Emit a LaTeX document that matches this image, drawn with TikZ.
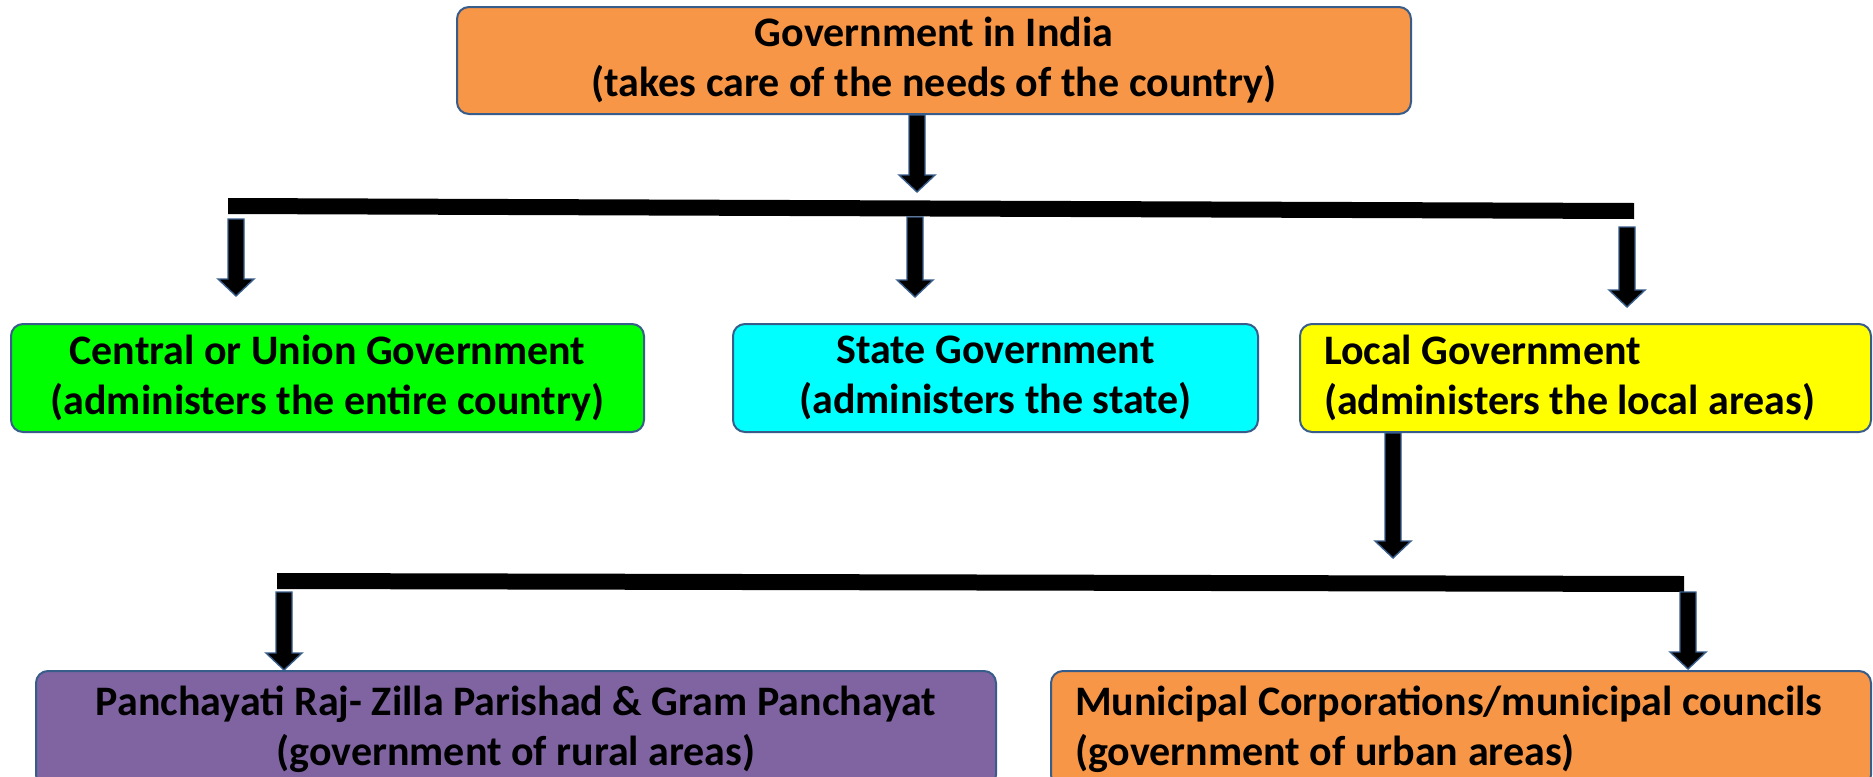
\documentclass[tikz,border=0pt]{standalone}
\usepackage{fontspec}
\setmainfont{Carlito}
\usetikzlibrary{calc}
\definecolor{orng}{HTML}{F79646}
\definecolor{grn}{HTML}{00FF00}
\definecolor{cyn}{HTML}{00FFFF}
\definecolor{yel}{HTML}{FFFF00}
\definecolor{purp}{HTML}{8064A2}
\definecolor{outl}{HTML}{385D8A}
\tikzset{
  box/.style={draw=outl, line width=1pt, rounded corners=6pt, anchor=north west,
    inner sep=0pt, font=\fontsize{21}{25}\selectfont\bfseries},
  cbox/.style={box, align=center},
  lbox/.style={box, align=flush left, inner xsep=12pt},
  barfill/.style={fill=black},
  blk/.style={fill=black, draw=outl, line width=0.7pt, line join=miter}
}
\newcommand\blockarrow[2]{%
  \path[blk] let \p1=(#1), \p2=(#2) in
    (\x1-4pt,\y1) -- (\x1-4pt,\y2+8.5pt) -- (\x1-9pt,\y2+8.5pt) -- (\x1,\y2)
    -- (\x1+9pt,\y2+8.5pt) -- (\x1+4pt,\y2+8.5pt) -- (\x1+4pt,\y1) -- cycle;}
\begin{document}
\begin{tikzpicture}[x=0.5pt, y=-0.5pt]
  \useasboundingbox (0,0) rectangle (1873,776);
  \clip (0,0) rectangle (1873,776);
  \fill[white] (0,0) rectangle (1873,776);

  % boxes
  \node[cbox, fill=orng, minimum width=477pt, minimum height=53.5pt] (top) at (456,6)
    {Government in India\\(takes care of the needs of the country)};
  \node[cbox, fill=grn, minimum width=316.5pt, minimum height=54pt] (central) at (10,323)
    {Central or Union Government\\(administers the entire country)};
  \node[cbox, fill=cyn, minimum width=262.5pt, minimum height=54pt] (state) at (732,323)
    {State Government\\(administers the state)};
  \node[lbox, fill=yel, text width=261.5pt, minimum height=54pt] (local) at (1299,323)
    {Local Government\\(administers the local areas)};
  \node[cbox, fill=purp, minimum width=480pt, minimum height=58pt] (rural) at (35,670)
    {Panchayati Raj- Zilla Parishad \& Gram Panchayat\\(government of rural areas)};
  \node[lbox, fill=orng, text width=386pt, minimum height=58pt] (urban) at (1050,670)
    {Municipal Corporations/municipal councils\\(government of urban areas)};

  % bars
  \coordinate (b1l) at (228,198);
  \coordinate (b1r) at (1634,203);
  \coordinate (b2l) at (277,573);
  \coordinate (b2r) at (1684,576);
  \fill[barfill] (b1l) -- (b1r) -- ($(b1r)+(0,16)$) -- ($(b1l)+(0,16)$) -- cycle;
  \fill[barfill] (b2l) -- (b2r) -- ($(b2r)+(0,16)$) -- ($(b2l)+(0,16)$) -- cycle;

  % arrow coordinates
  \coordinate (t0) at (917,192);
  \coordinate (s1) at (236,219); \coordinate (t1) at (236,296);
  \coordinate (s2) at (915,217); \coordinate (t2) at (915,297);
  \coordinate (s3) at (1627,227); \coordinate (t3) at (1627,307);
  \coordinate (t4) at (1393,558);
  \coordinate (s5) at (284,592); \coordinate (t5) at (284,670);
  \coordinate (s6) at (1688,592); \coordinate (t6) at (1688,669);

  \blockarrow{top.south -| t0}{t0}
  \blockarrow{s1}{t1}
  \blockarrow{s2}{t2}
  \blockarrow{s3}{t3}
  \blockarrow{local.south -| t4}{t4}
  \blockarrow{s5}{t5}
  \blockarrow{s6}{t6}
\end{tikzpicture}
\end{document}
